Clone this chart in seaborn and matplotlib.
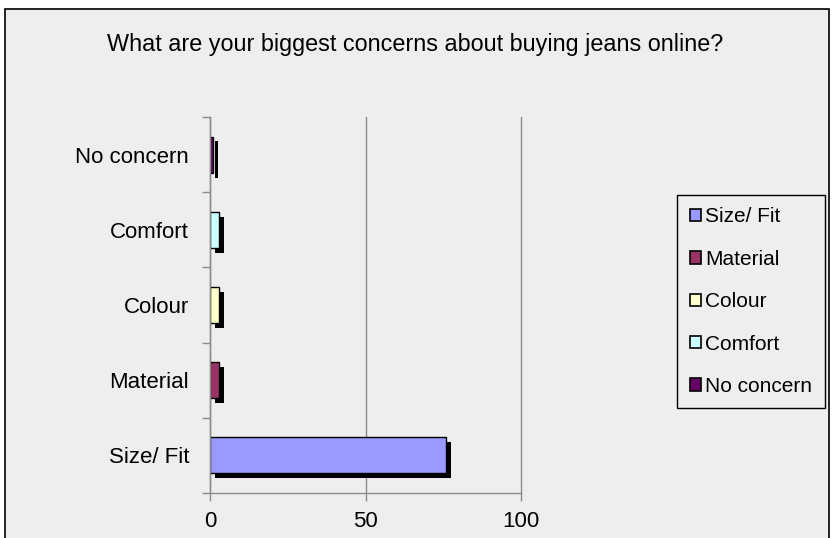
import matplotlib
matplotlib.use("Agg")
import matplotlib.pyplot as plt
import matplotlib.patheffects as pe
from matplotlib.patches import Rectangle, Patch
import seaborn as sns
import pandas as pd

# Survey responses
categories = ["No concern", "Comfort", "Colour", "Material", "Size/ Fit"]
values = [1, 3, 3, 3, 76]
colors = ["#660066", "#CCFFFF", "#FFFFCC", "#993366", "#9999FF"]
legend_order = ["Size/ Fit", "Material", "Colour", "Comfort", "No concern"]
x_ticks = [0, 50, 100]

df = pd.DataFrame({"concern": categories, "value": values})
palette = dict(zip(categories, colors))

sns.set_theme(style="white")
plt.rcParams["font.family"] = ["Liberation Sans", "DejaVu Sans"]

bg = "#EEEEEE"
fig = plt.figure(figsize=(8.34, 5.38), dpi=100, facecolor="white")
# chart area panel with black frame
fig.patches.append(Rectangle((5 / 834, -0.05), 824 / 834, 1 - 9 / 538 + 0.05,
                             transform=fig.transFigure, facecolor=bg,
                             edgecolor="black", linewidth=1.2, zorder=-5))

ax = fig.add_axes([210 / 834, 1 - 493 / 538, 311 / 834, 376 / 538])
ax.set_facecolor(bg)

sns.barplot(data=df, y="concern", x="value", hue="concern", palette=palette,
            order=categories, hue_order=categories, dodge=False, legend=False,
            width=0.48, edgecolor="black", linewidth=1.0, saturation=1, ax=ax)

for p in ax.patches:
    p.set_path_effects([pe.SimplePatchShadow(offset=(3.5, -3.5), shadow_rgbFace="black", alpha=1),
                        pe.Normal()])

ax.set_xlim(0, 100)
ax.set_ylim(len(categories) - 0.5, -0.5)
ax.set_xticks(x_ticks)
ax.set_xlabel("")
ax.set_ylabel("")
ax.grid(axis="x", color="#8C8C8C", linewidth=1.0)
ax.set_axisbelow(True)
for gl in ax.get_xgridlines():
    gl.set_clip_on(False)

for s in ["top", "right"]:
    ax.spines[s].set_visible(False)
for s in ["left", "bottom"]:
    ax.spines[s].set_color("#8C8C8C")
    ax.spines[s].set_linewidth(1.0)

ax.set_yticks(range(len(categories)))
ax.set_yticklabels(categories)
ax.set_yticks([i - 0.5 for i in range(len(categories) + 1)], minor=True)
ax.tick_params(axis="y", which="major", length=0, pad=15, labelsize=16, labelcolor="black")
ax.tick_params(axis="y", which="minor", length=6, width=1.0, color="#8C8C8C", left=True)
ax.tick_params(axis="x", which="major", length=6, width=1.0, color="#8C8C8C", bottom=True,
               labelsize=16, labelcolor="black", pad=7)

fig.text(415 / 834, 1 - 45 / 538, "What are your biggest concerns about buying jeans online?",
         ha="center", va="center", fontsize=16.8, color="black")

handles = [Patch(facecolor=palette[c], edgecolor="black", linewidth=1.2, label=c)
           for c in legend_order]
leg = fig.legend(handles=handles, loc="upper left",
                 bbox_to_anchor=(677 / 834, 1 - 195 / 538),
                 frameon=True, fancybox=False, framealpha=1, facecolor=bg,
                 edgecolor="black", fontsize=15, labelcolor="black",
                 handlelength=0.55, handleheight=0.55,
                 handletextpad=0.2, labelspacing=1.12, borderpad=0.6, borderaxespad=0)
leg.get_frame().set_linewidth(1.0)

fig.savefig("out.png", dpi=100, facecolor="white")
